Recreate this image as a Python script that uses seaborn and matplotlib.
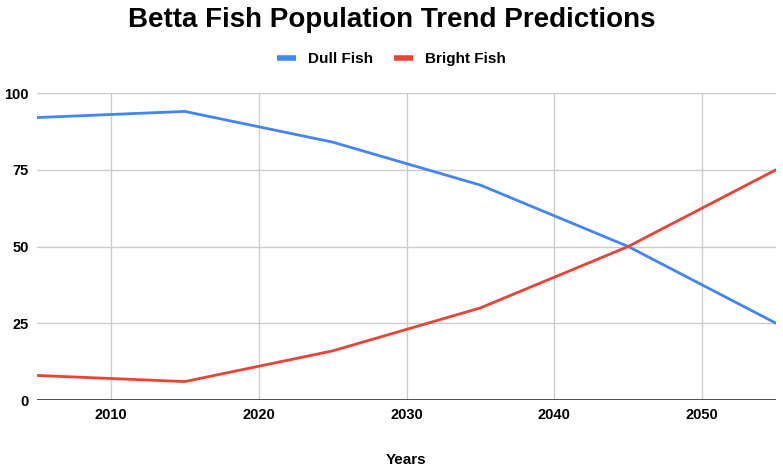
import pandas as pd
import matplotlib
matplotlib.use("Agg")
import matplotlib.pyplot as plt
import seaborn as sns

years = [2005, 2015, 2025, 2035, 2045, 2055]
dull_fish = [92, 94, 84, 70, 50, 25]
bright_fish = [8, 6, 16, 30, 50, 75]

df = pd.DataFrame({"Years": years, "Dull Fish": dull_fish, "Bright Fish": bright_fish})
long_df = df.melt(id_vars="Years", var_name="Series", value_name="Value")

sns.set_style("white")
plt.rcParams['font.family'] = ['Liberation Sans', 'DejaVu Sans']
plt.rcParams['text.color'] = 'black'

fig = plt.figure(figsize=(7.83, 4.71), dpi=100)
ax = fig.add_axes([37 / 783, 1 - 400 / 471, (776 - 37) / 783, (400 - 93) / 471])

sns.lineplot(data=long_df, x="Years", y="Value", hue="Series",
             palette=["#4285f4", "#ea4335"], linewidth=2, ax=ax, legend=False)

ax.set_xlim(2005, 2055)
ax.set_ylim(0, 100)
ax.set_xticks([2010, 2020, 2030, 2040, 2050])
ax.set_yticks([0, 25, 50, 75, 100])
ax.grid(True, color="#cccccc", linewidth=1)
ax.axhline(0, color="#333333", linewidth=1.2)
for s in ax.spines.values():
    s.set_visible(False)
ax.tick_params(length=0, labelsize=10.5, pad=6, labelcolor="black")
for lbl in ax.get_xticklabels() + ax.get_yticklabels():
    lbl.set_fontweight("bold")
ax.set_xlabel("Years", fontsize=11, fontweight="bold", labelpad=22, color="black")
ax.set_ylabel("")

fig.text(0.5, 1 - 20 / 471, "Betta Fish Population Trend Predictions",
         ha="center", va="center", fontsize=20, fontweight="bold", color="black")

handles = [plt.Line2D([], [], color="#4285f4", linewidth=4, solid_capstyle="butt"),
           plt.Line2D([], [], color="#ea4335", linewidth=4, solid_capstyle="butt")]
fig.legend(handles, ["Dull Fish", "Bright Fish"], loc="center",
           bbox_to_anchor=(0.5, 1 - 59 / 471), ncol=2, frameon=False,
           prop={"weight": "bold", "size": 11}, handlelength=1.2,
           columnspacing=1.4, handletextpad=0.8, labelcolor="black")

fig.savefig("out.png", dpi=100)
